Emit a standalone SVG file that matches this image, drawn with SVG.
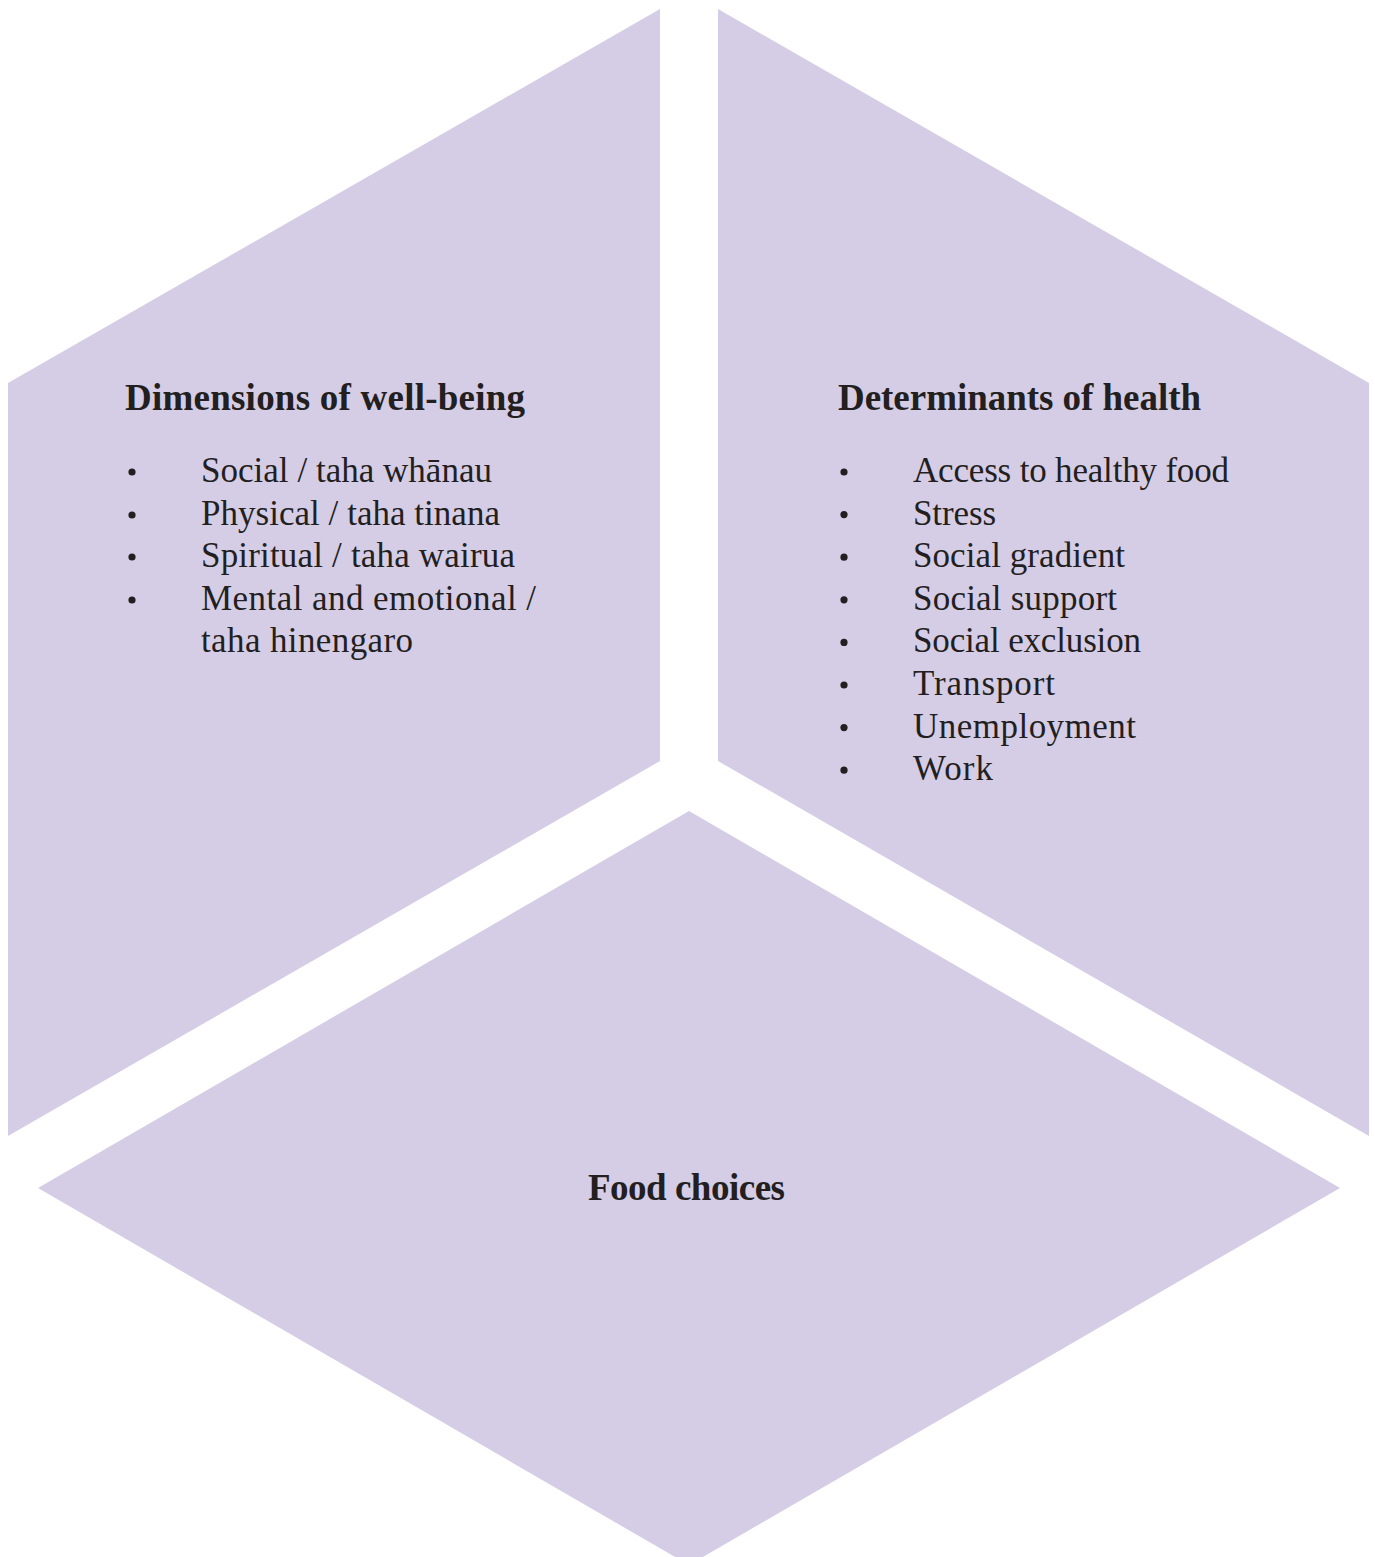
<svg xmlns="http://www.w3.org/2000/svg" width="1375" height="1557" viewBox="0 0 1375 1557">
  <style>
    .face { fill: #d5cde6; stroke: none; }
    .title { font-family: "Liberation Serif", "DejaVu Serif", serif; font-weight: bold; font-size: 37px; fill: #231f20; }
    .item { font-family: "Liberation Serif", "DejaVu Serif", serif; font-size: 35px; fill: #231f20; }
    .dot { fill: #231f20; }
  </style>
  <rect width="1375" height="1557" fill="#ffffff"/>

  <!-- left face -->
  <g id="wellbeing">
    <polygon class="face" points="660,9 8,383 8,1136 660,761"/>
    <text class="title" x="125" y="410" textLength="400">Dimensions of well-being</text>
    <circle class="dot" cx="132" cy="472" r="3.6"/>
    <circle class="dot" cx="132" cy="515" r="3.6"/>
    <circle class="dot" cx="132" cy="557" r="3.6"/>
    <circle class="dot" cx="132" cy="600" r="3.6"/>
    <text class="item" x="201" y="482" textLength="291">Social / taha whānau</text>
    <text class="item" x="201" y="524.6" textLength="299">Physical / taha tinana</text>
    <text class="item" x="201" y="567.2" textLength="314">Spiritual / taha wairua</text>
    <text class="item" x="201" y="609.8" textLength="335">Mental and emotional /</text>
    <text class="item" x="201" y="652.4" textLength="212">taha hinengaro</text>
  </g>

  <!-- right face -->
  <g id="determinants">
    <polygon class="face" points="718,9 1369,383 1369,1136 718,761"/>
    <text class="title" x="838" y="410" textLength="363">Determinants of health</text>
    <g>
      <circle class="dot" cx="844" cy="472" r="3.6"/>
      <circle class="dot" cx="844" cy="514.6" r="3.6"/>
      <circle class="dot" cx="844" cy="557.2" r="3.6"/>
      <circle class="dot" cx="844" cy="599.8" r="3.6"/>
      <circle class="dot" cx="844" cy="642.4" r="3.6"/>
      <circle class="dot" cx="844" cy="685" r="3.6"/>
      <circle class="dot" cx="844" cy="727.6" r="3.6"/>
      <circle class="dot" cx="844" cy="770.2" r="3.6"/>
    </g>
    <text class="item" x="913" y="482" textLength="316">Access to healthy food</text>
    <text class="item" x="913" y="524.6" textLength="83">Stress</text>
    <text class="item" x="913" y="567.2" textLength="212">Social gradient</text>
    <text class="item" x="913" y="609.8" textLength="204">Social support</text>
    <text class="item" x="913" y="652.4" textLength="228">Social exclusion</text>
    <text class="item" x="913" y="695" textLength="142">Transport</text>
    <text class="item" x="913" y="737.6" textLength="223">Unemployment</text>
    <text class="item" x="913" y="780.2" textLength="80">Work</text>
  </g>

  <!-- bottom face -->
  <g id="food">
    <polygon class="face" points="689,811 38,1188 689,1565 1340,1188"/>
    <text class="title" x="588" y="1200" textLength="197">Food choices</text>
  </g>

  <g id="connectors"/>
</svg>
